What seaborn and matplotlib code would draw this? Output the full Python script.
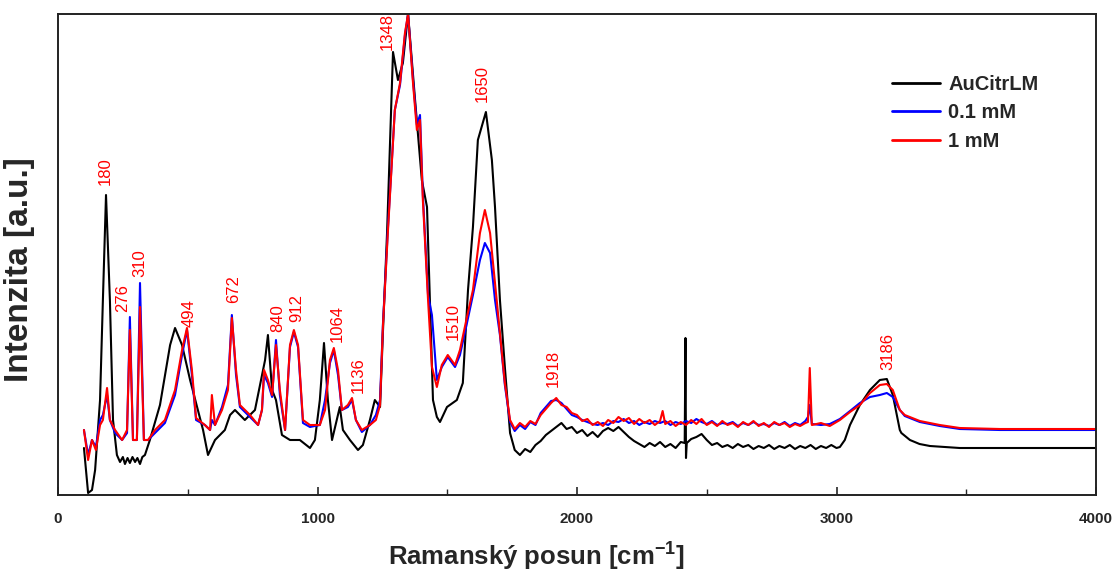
import numpy as np
import pandas as pd
import matplotlib
matplotlib.use("Agg")

import matplotlib.pyplot as plt
from matplotlib.ticker import MultipleLocator
import seaborn as sns


# ==============================
# DATA
# ==============================
black_x = [100, 116, 131, 143, 162, 173, 185, 200, 212, 227, 239, 250, 258, 268, 277, 287,
           297, 306, 316, 325, 335, 354, 393, 432, 451, 478, 509, 539, 559, 578, 605, 643,
           663, 682, 720, 759, 786, 798, 809, 825, 840, 863, 894, 932, 971, 990, 1009, 1025,
           1040, 1056, 1086, 1098, 1125, 1156, 1175, 1202, 1221, 1241, 1252, 1268, 1291,
           1310, 1329, 1349, 1376, 1402, 1422, 1433, 1445, 1460, 1472, 1499, 1537, 1560,
           1580, 1599, 1618, 1649, 1672, 1684, 1703, 1722, 1742,
           1760, 1780, 1800, 1820, 1840, 1860, 1880, 1900, 1920, 1940, 1960, 1980, 2000,
           2020, 2040, 2060, 2080, 2100, 2120, 2140, 2160, 2180, 2200, 2220, 2240, 2260,
           2280, 2300, 2320, 2340, 2360, 2380, 2400, 2415, 2418, 2420, 2423, 2440, 2460,
           2480, 2500, 2520, 2540, 2560, 2580, 2600, 2620, 2640, 2660, 2680, 2700, 2720,
           2740, 2760, 2780, 2800, 2820, 2840, 2860, 2880, 2900, 2920, 2940, 2960, 2980,
           3000, 3013, 3032, 3052, 3090, 3129, 3167, 3194, 3217, 3244, 3250, 3283, 3320,
           3360, 3420, 3475, 3630, 4000]
black_y = [47, 2, 5, 25, 95, 195, 300, 195, 75, 40, 33, 38, 31, 37, 32, 38,
           33, 37, 31, 38, 40, 55, 90, 150, 167, 150, 115, 85, 65, 40, 55, 65,
           80, 85, 75, 85, 120, 135, 160, 105, 95, 60, 55, 55, 47, 55, 95, 152,
           95, 55, 88, 65, 55, 45, 50, 75, 95, 88, 162, 262, 443,
           415, 432, 481, 395, 315, 288, 195, 95, 78, 73, 88, 95, 112,
           205, 268, 355, 383, 335, 288, 195, 128, 62,
           45, 40, 46, 43, 50, 54, 60, 64, 68, 72, 66, 68, 62,
           65, 59, 63, 58, 64, 67, 64, 68, 63, 58, 54, 51, 48,
           52, 49, 53, 48, 51, 47, 53, 52, 157, 37, 52, 56, 58,
           61, 55, 50, 52, 48, 50, 47, 51, 48, 50, 46, 49, 47,
           50, 46, 49, 47, 50, 46, 49, 47, 50, 46, 49, 47, 50,
           47, 48, 55, 70, 90, 105, 115, 116, 100, 65, 62, 55, 51,
           49, 48, 47, 47, 47]

red_x = [100, 116, 131, 146, 162, 173, 189, 200, 220, 247, 266, 277, 289, 304, 316, 331,
         347, 374, 412, 451, 478, 497, 516, 532, 566, 586, 593, 605, 632, 655, 670, 686,
         701, 740, 771, 786, 794, 809, 825, 840, 855, 875, 894, 909, 925, 944, 971, 1009,
         1029, 1048, 1063, 1079, 1094, 1117, 1133, 1148, 1171, 1202, 1225, 1241, 1252,
         1271, 1298, 1318, 1337, 1349, 1368, 1383, 1395, 1406, 1426, 1441, 1460, 1479,
         1502, 1530, 1549, 1576, 1599, 1626, 1645, 1665, 1684, 1703, 1722, 1742,
         1760, 1780, 1800, 1820, 1840, 1860, 1880, 1900, 1920, 1940, 1960, 1980, 2000,
         2020, 2040, 2060, 2080, 2100, 2120, 2140, 2160, 2180, 2200, 2220, 2240, 2260,
         2280, 2300, 2320, 2330, 2340, 2360, 2380, 2400, 2420, 2440, 2460, 2480, 2500,
         2520, 2540, 2560, 2580, 2600, 2620, 2640, 2660, 2680, 2700, 2720, 2740, 2760,
         2780, 2800, 2820, 2840, 2860, 2880, 2890, 2897, 2905, 2940, 2974, 3013, 3052,
         3090, 3129, 3167, 3194, 3217, 3244, 3263, 3321, 3398, 3475, 3630, 4000]
red_y = [65, 35, 55, 45, 70, 75, 107, 75, 65, 55, 65, 165, 55, 55, 188, 55,
         55, 65, 75, 105, 145, 167, 125, 77, 70, 65, 100, 70, 85, 105, 177, 125,
         90, 80, 70, 85, 125, 115, 100, 150, 105, 65, 150, 165, 150, 75, 70, 70,
         85, 135, 147, 125, 85, 90, 97, 75, 65, 70, 75, 90, 168,
         262, 385, 412, 462, 481, 412, 365, 375, 295, 195, 128, 108, 130,
         140, 130, 145, 178, 205, 262, 285, 262, 212, 162, 112, 75,
         66, 72, 68, 74, 71, 80, 86, 92, 97, 90, 88, 82, 80,
         74, 76, 70, 73, 69, 75, 72, 78, 74, 77, 71, 76, 72,
         75, 70, 74, 84, 71, 74, 69, 73, 70, 75, 71, 76, 70,
         73, 69, 74, 70, 72, 68, 73, 70, 74, 69, 72, 68, 73,
         70, 72, 68, 71, 69, 72, 73, 127, 70, 72, 69, 75, 83,
         90, 102, 110, 111, 105, 85, 80, 74, 70, 67, 66, 66]

blue_x = red_x
blue_y = [65, 40, 55, 48, 75, 80, 100, 75, 62, 55, 62, 178, 55, 55, 212, 55,
          55, 62, 72, 100, 140, 165, 120, 75, 70, 65, 75, 70, 88, 110, 180, 120,
          88, 78, 70, 85, 120, 112, 98, 155, 100, 65, 148, 163, 148, 72, 68, 70,
          95, 132, 145, 120, 85, 88, 95, 75, 63, 70, 80, 95, 170,
          265, 385, 410, 460, 481, 415, 370, 380, 300, 200, 180, 115, 128,
          138, 128, 140, 172, 200, 235, 252, 242, 195, 160, 110, 73,
          64, 70, 66, 73, 70, 82, 88, 94, 95, 92, 86, 80, 78,
          75, 73, 71, 70, 72, 70, 74, 73, 76, 72, 74, 70, 73,
          71, 74, 72, 73, 74, 70, 73, 71, 74, 72, 76, 73, 71,
          74, 70, 72, 71, 73, 69, 72, 70, 73, 70, 71, 69, 72,
          70, 73, 69, 72, 70, 74, 78, 90, 71, 70, 71, 76, 84,
          92, 98, 100, 102, 98, 85, 79, 73, 69, 66, 65, 65]

series_names = ["AuCitrLM", "0.1 mM", "1 mM"]
series_colors = ["black", "#0000ff", "#ff0000"]

peak_labels = ["180", "276", "310", "494", "672", "840", "912", "1064", "1136",
               "1348", "1510", "1650", "1918", "3186"]
# where each rotated label sits (cm-1, a.u.)
label_x = [181, 250, 316, 505, 678, 848, 921, 1075, 1156, 1268, 1522, 1634, 1907, 3198]
label_y = [310, 183, 218, 168, 192, 163, 173, 153, 102, 445, 155, 393, 108, 125]


df = pd.concat([
    pd.DataFrame({"x": black_x, "y": black_y, "vzorka": series_names[0]}),
    pd.DataFrame({"x": blue_x, "y": blue_y, "vzorka": series_names[1]}),
    pd.DataFrame({"x": red_x, "y": red_y, "vzorka": series_names[2]}),
], ignore_index=True)


# ==============================
# PLOT
# ==============================
sns.set_style("white")
plt.rcParams["font.family"] = ["Liberation Sans", "DejaVu Sans"]
plt.rcParams["mathtext.fontset"] = "custom"
plt.rcParams["mathtext.rm"] = "Liberation Sans:bold"
plt.rcParams["mathtext.bf"] = "Liberation Sans:bold"

fig = plt.figure(figsize=(11.15, 5.71), dpi=100)
ax = fig.add_axes([58 / 1115, 76 / 571, 1038 / 1115, 481 / 571])

sns.lineplot(
    data=df, x="x", y="y", hue="vzorka",
    hue_order=series_names, palette=series_colors,
    estimator=None, sort=False, linewidth=1.5, ax=ax
)

for txt, lx, ly in zip(peak_labels, label_x, label_y):
    ax.text(lx, ly, txt, rotation=90, ha="center", va="bottom",
            color="#ff0000", fontsize=12)

ax.set_xlim(0, 4000)
ax.set_ylim(0, 481)
ax.xaxis.set_major_locator(MultipleLocator(1000))
ax.xaxis.set_minor_locator(MultipleLocator(500))
ax.tick_params(axis="x", which="major", direction="in", length=6, width=1.2,
               bottom=True, top=False, pad=12, labelsize=11)
ax.tick_params(axis="x", which="minor", direction="in", length=4, width=1.0,
               bottom=True, top=False)
ax.set_yticks([])
for lbl in ax.get_xticklabels():
    lbl.set_fontweight("bold")

for sp in ax.spines.values():
    sp.set_visible(True)
    sp.set_color("#222222")
    sp.set_linewidth(1.4)

ax.set_xlabel("Ramanský posun [cm$^{\\mathbf{-1}}$]", fontsize=18.5, fontweight="bold")
ax.xaxis.set_label_coords(0.4605, -0.092)
ax.set_ylabel("Intenzita [a.u.]", fontsize=24, fontweight="bold")
ax.yaxis.set_label_coords(-0.022, 0.468)

leg = ax.legend(
    loc="upper left", bbox_to_anchor=(892 / 1115, 1 - 75 / 571),
    bbox_transform=fig.transFigure, frameon=False,
    borderpad=0, borderaxespad=0, handlelength=2.4, handletextpad=0.4,
    labelspacing=0.47, prop={"size": 14.5, "weight": "bold"}
)
for ln in leg.get_lines():
    ln.set_linewidth(2)

plt.savefig("out.png", dpi=100)
plt.close()
